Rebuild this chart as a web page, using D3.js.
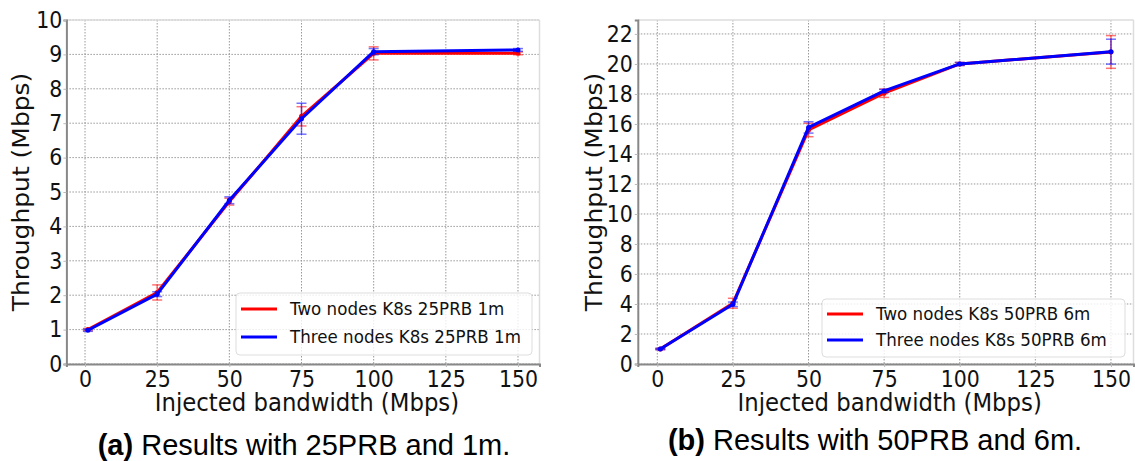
<!DOCTYPE html>
<html>
<head>
<meta charset="utf-8">
<script src="https://cdn.jsdelivr.net/npm/d3@7"></script>
<style>
  body { margin: 0; background: #fff; }
  svg { display: block; }
  .tick text { font-family: "DejaVu Sans", sans-serif; }
</style>
</head>
<body>
<svg id="chart" width="1135" height="461"></svg>
<script>
// x values (Mbps injected) shared by both panels
const injected = [1, 25, 50, 75, 100, 150];
const xTicks = [0, 25, 50, 75, 100, 125, 150];

// panel (a) 25PRB 1m
const twoNodes25 = [1.0, 2.08, 4.72, 7.2, 9.03, 9.03];
const twoNodes25Err = [0.03, 0.22, 0.1, 0.28, 0.19, 0.04];
const threeNodes25 = [0.98, 2.03, 4.76, 7.13, 9.08, 9.13];
const threeNodes25Err = [0.03, 0.07, 0.1, 0.45, 0.09, 0.04];
const yTicksA = [0, 1, 2, 3, 4, 5, 6, 7, 8, 9, 10];

// panel (b) 50PRB 6m
const twoNodes50 = [1.0, 4.05, 15.6, 18.05, 20.0, 20.8];
const twoNodes50Err = [0.04, 0.33, 0.45, 0.28, 0.1, 1.09];
const threeNodes50 = [1.0, 3.98, 15.77, 18.2, 20.0, 20.82];
const threeNodes50Err = [0.04, 0.15, 0.38, 0.1, 0.1, 0.83];
const yTicksB = [0, 2, 4, 6, 8, 10, 12, 14, 16, 18, 20, 22];

// the plot image is a little stretched vertically, so its text is too
const stretch = 1.1;

const svg = d3.select('#chart');

// scale a text around its own anchor point
const tall = (sel) => {
	sel.each(function() {
		const t = d3.select(this);
		const x = +t.attr('x') || 0, y = +t.attr('y') || 0;
		t.attr('transform', `translate(${x},${y}) scale(1,${stretch}) translate(${-x},${-y})`);
	});
};

const drawPanel = (opt) => {
	const x = d3.scaleLinear().domain([-6.45, 157.45]).range([opt.left, opt.right]);
	const y = d3.scaleLinear().domain(opt.yDomain).range([opt.bottom, opt.top]);
	const g = svg.append('g');

	// grid
	g.selectAll('.gx').data(xTicks).enter().append('line')
		.attr('x1', d => x(d)).attr('x2', d => x(d))
		.attr('y1', opt.top).attr('y2', opt.bottom)
		.attr('stroke', '#999').attr('stroke-width', 1)
		.attr('stroke-dasharray', '1.5,1.5');
	g.selectAll('.gy').data(opt.yTicks).enter().append('line')
		.attr('x1', opt.left).attr('x2', opt.right)
		.attr('y1', d => y(d)).attr('y2', d => y(d))
		.attr('stroke', '#999').attr('stroke-width', 1)
		.attr('stroke-dasharray', '1.5,1.5');

	// frame: light top/right, darker left/bottom
	g.append('line').attr('x1', opt.left).attr('x2', opt.right).attr('y1', opt.top).attr('y2', opt.top)
		.attr('stroke', '#ddd').attr('stroke-width', 1.5);
	g.append('line').attr('x1', opt.right).attr('x2', opt.right).attr('y1', opt.top).attr('y2', opt.bottom)
		.attr('stroke', '#ddd').attr('stroke-width', 1.5);

	const xAxis = g.append('g').attr('transform', `translate(0,${opt.bottom})`)
		.call(d3.axisBottom(x).tickValues(xTicks).tickSize(3).tickPadding(4));
	const yAxis = g.append('g').attr('transform', `translate(${opt.left},0)`)
		.call(d3.axisLeft(y).tickValues(opt.yTicks).tickSize(3).tickPadding(opt.yPad));
	[xAxis, yAxis].forEach(a => {
		a.select('.domain').attr('stroke', '#888').attr('stroke-width', 2);
		a.selectAll('.tick line').attr('stroke', '#bbb');
		a.selectAll('.tick text').attr('font-size', 20.5).attr('fill', '#111').call(tall);
	});

	// series
	const line = d3.line().x((d, i) => x(injected[i])).y(d => y(d));
	opt.series.forEach(s => {
		g.append('path').datum(s.values)
			.attr('d', line).attr('fill', 'none')
			.attr('stroke', s.color).attr('stroke-width', 3)
			.attr('stroke-linejoin', 'round');
		const eb = g.selectAll(null).data(s.values).enter().append('g')
			.attr('stroke', s.color).attr('stroke-opacity', 0.55).attr('stroke-width', 1.5);
		eb.append('line')
			.attr('x1', (d, i) => x(injected[i])).attr('x2', (d, i) => x(injected[i]))
			.attr('y1', (d, i) => y(d - s.err[i])).attr('y2', (d, i) => y(d + s.err[i]));
		eb.append('line')
			.attr('x1', (d, i) => x(injected[i]) - 5).attr('x2', (d, i) => x(injected[i]) + 5)
			.attr('y1', (d, i) => y(d - s.err[i])).attr('y2', (d, i) => y(d - s.err[i]));
		eb.append('line')
			.attr('x1', (d, i) => x(injected[i]) - 5).attr('x2', (d, i) => x(injected[i]) + 5)
			.attr('y1', (d, i) => y(d + s.err[i])).attr('y2', (d, i) => y(d + s.err[i]));
		g.selectAll(null).data(s.values).enter().append('circle')
			.attr('cx', (d, i) => x(injected[i])).attr('cy', d => y(d))
			.attr('r', 2.5).attr('fill', s.color);
	});

	// legend
	const lg = g.append('g');
	lg.append('rect')
		.attr('x', opt.legend.x).attr('y', opt.legend.y)
		.attr('width', opt.legend.w).attr('height', opt.legend.h)
		.attr('rx', 4).attr('fill', 'rgba(255,255,255,0.8)')
		.attr('stroke', '#ddd').attr('stroke-width', 1);
	opt.series.forEach((s, i) => {
		const ly = opt.legend.y + opt.legend.first + i * opt.legend.step;
		lg.append('line')
			.attr('x1', opt.legend.x + 5).attr('x2', opt.legend.x + 41)
			.attr('y1', ly).attr('y2', ly)
			.attr('stroke', s.color).attr('stroke-width', 3);
		lg.append('text')
			.attr('x', opt.legend.x + 54).attr('y', ly + 6)
			.attr('font-family', 'DejaVu Sans, sans-serif').attr('font-size', 16.7)
			.attr('fill', '#111')
			.text(s.label)
			.call(tall);
	});

	// axis titles
	g.append('text')
		.attr('x', (opt.left + opt.right) / 2 + 4).attr('y', 411)
		.attr('text-anchor', 'middle')
		.attr('font-family', 'DejaVu Sans, sans-serif').attr('font-size', 22.8)
		.attr('fill', '#111')
		.text('Injected bandwidth (Mbps)')
		.call(tall);
	g.append('text')
		.attr('transform', `translate(${opt.yLabelX},${(opt.top + opt.bottom) / 2}) rotate(-90) scale(${stretch},1)`)
		.attr('text-anchor', 'middle')
		.attr('font-family', 'DejaVu Sans, sans-serif').attr('font-size', 22.7)
		.attr('fill', '#111')
		.text('Throughput (Mbps)');

	// caption under the panel
	const cap = svg.append('text')
		.attr('x', opt.caption.x).attr('y', opt.caption.y)
		.attr('text-anchor', 'middle')
		.attr('font-family', 'Liberation Sans, Arial, sans-serif')
		.attr('font-size', 29).attr('fill', '#000');
	cap.append('tspan').attr('font-weight', 'bold').text(opt.caption.tag);
	cap.append('tspan').text(' ' + opt.caption.text);
};

drawPanel({
	left: 66.4, right: 539.5, top: 20, bottom: 364,
	yDomain: [0, 10], yTicks: yTicksA, yLabelX: 29, yPad: 1,
	series: [
		{ label: 'Two nodes K8s 25PRB 1m', color: '#ff0000', values: twoNodes25, err: twoNodes25Err },
		{ label: 'Three nodes K8s 25PRB 1m', color: '#0000ff', values: threeNodes25, err: threeNodes25Err }
	],
	legend: { x: 236, y: 293, w: 296, h: 62, first: 16, step: 28 },
	caption: { x: 304, y: 454.5, tag: '(a)', text: 'Results with 25PRB and 1m.' }
});

drawPanel({
	left: 637.8, right: 1133.5, top: 20, bottom: 364,
	yDomain: [0, 22.93], yTicks: yTicksB, yLabelX: 602, yPad: 2,
	series: [
		{ label: 'Two nodes K8s 50PRB 6m', color: '#ff0000', values: twoNodes50, err: twoNodes50Err },
		{ label: 'Three nodes K8s 50PRB 6m', color: '#0000ff', values: threeNodes50, err: threeNodes50Err }
	],
	legend: { x: 822, y: 299, w: 303, h: 58, first: 15, step: 26 },
	caption: { x: 875, y: 450, tag: '(b)', text: 'Results with 50PRB and 6m.' }
});
</script>
</body>
</html>
